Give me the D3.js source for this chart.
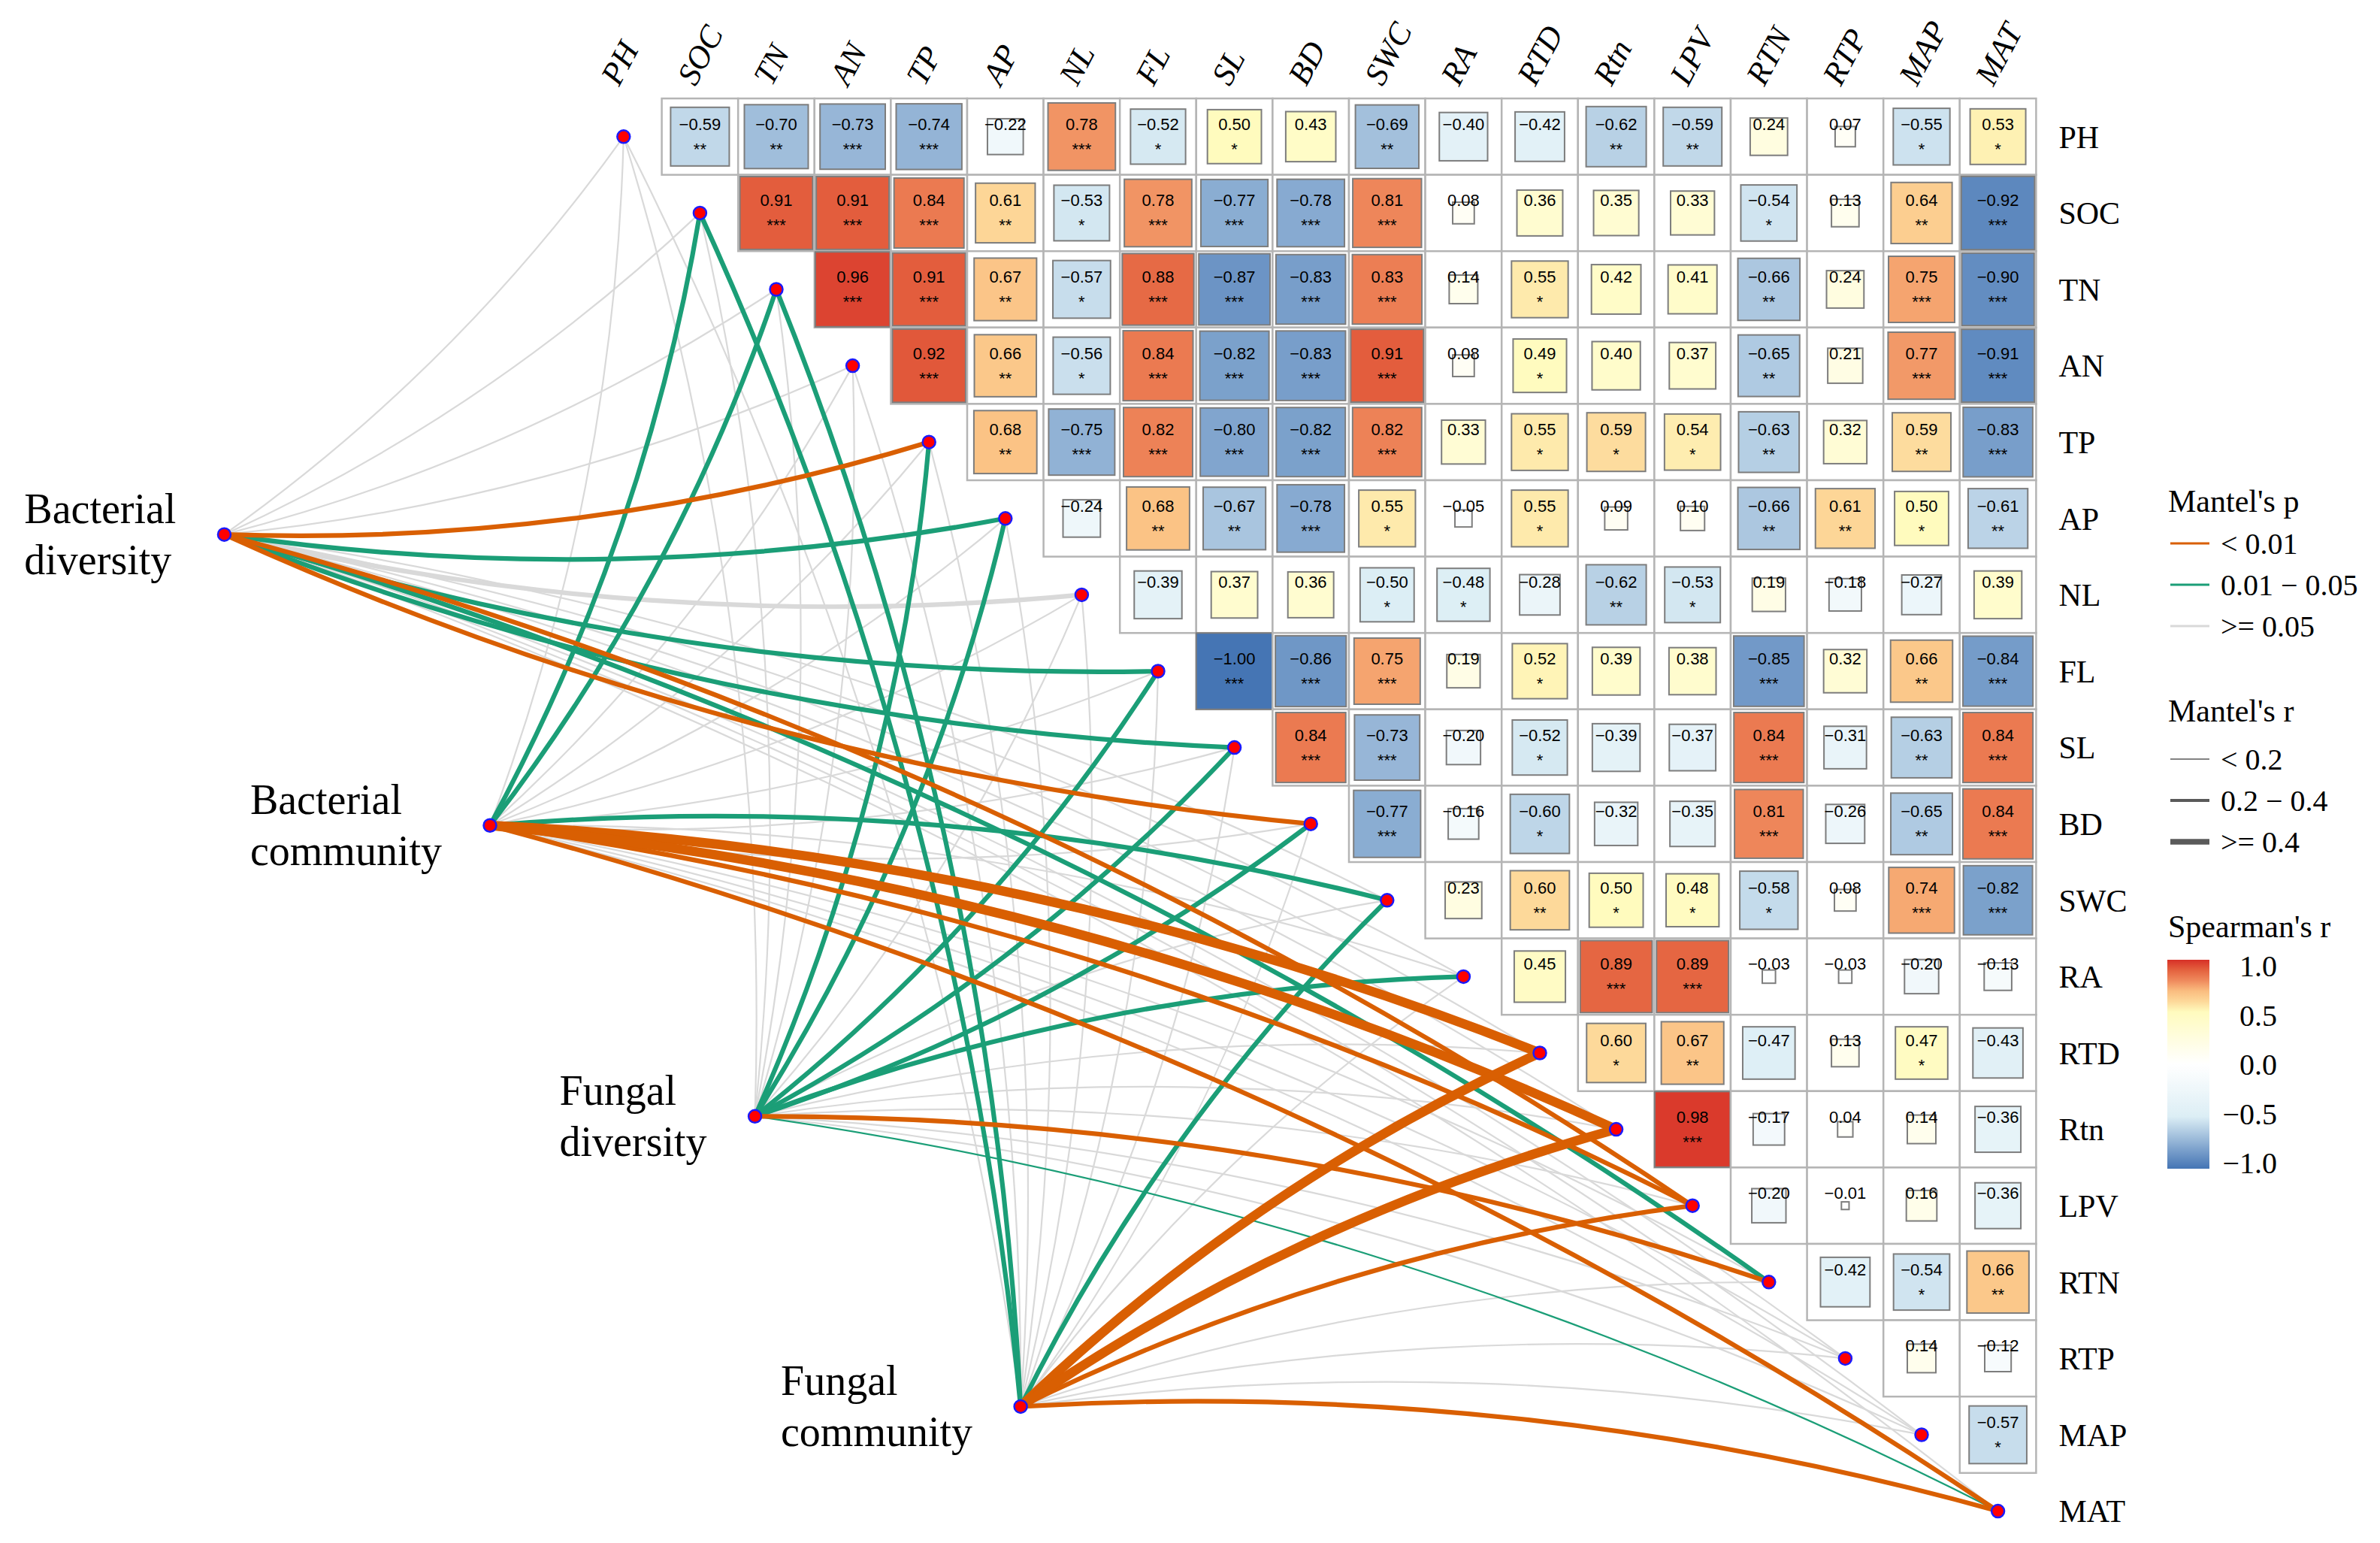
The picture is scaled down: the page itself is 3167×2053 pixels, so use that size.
<!DOCTYPE html>
<html>
<head>
<meta charset="utf-8">
<script src="https://cdn.jsdelivr.net/npm/d3@7/dist/d3.min.js"></script>
<style>
  body { margin: 0; background: #fff; }
  text { fill: #000; }
</style>
</head>
<body>
<svg id="chart"></svg>
<script>
/************************************ Data *******************************/
var vars = ["PH","SOC","TN","AN","TP","AP","NL","FL","SL","BD","SWC","RA","RTD","Rtn","LPV","RTN","RTP","MAP","MAT"];

// Spearman's r, upper triangle, one array per row (columns to the right of the diagonal)
var r_PH  = [-0.59,-0.70,-0.73,-0.74,-0.22,0.78,-0.52,0.50,0.43,-0.69,-0.40,-0.42,-0.62,-0.59,0.24,0.07,-0.55,0.53];
var r_SOC = [0.91,0.91,0.84,0.61,-0.53,0.78,-0.77,-0.78,0.81,0.08,0.36,0.35,0.33,-0.54,0.13,0.64,-0.92];
var r_TN  = [0.96,0.91,0.67,-0.57,0.88,-0.87,-0.83,0.83,0.14,0.55,0.42,0.41,-0.66,0.24,0.75,-0.90];
var r_AN  = [0.92,0.66,-0.56,0.84,-0.82,-0.83,0.91,0.08,0.49,0.40,0.37,-0.65,0.21,0.77,-0.91];
var r_TP  = [0.68,-0.75,0.82,-0.80,-0.82,0.82,0.33,0.55,0.59,0.54,-0.63,0.32,0.59,-0.83];
var r_AP  = [-0.24,0.68,-0.67,-0.78,0.55,-0.05,0.55,0.09,0.10,-0.66,0.61,0.50,-0.61];
var r_NL  = [-0.39,0.37,0.36,-0.50,-0.48,-0.28,-0.62,-0.53,0.19,-0.18,-0.27,0.39];
var r_FL  = [-1.00,-0.86,0.75,0.19,0.52,0.39,0.38,-0.85,0.32,0.66,-0.84];
var r_SL  = [0.84,-0.73,-0.20,-0.52,-0.39,-0.37,0.84,-0.31,-0.63,0.84];
var r_BD  = [-0.77,-0.16,-0.60,-0.32,-0.35,0.81,-0.26,-0.65,0.84];
var r_SWC = [0.23,0.60,0.50,0.48,-0.58,0.08,0.74,-0.82];
var r_RA  = [0.45,0.89,0.89,-0.03,-0.03,-0.20,-0.13];
var r_RTD = [0.60,0.67,-0.47,0.13,0.47,-0.43];
var r_Rtn = [0.98,-0.17,0.04,0.14,-0.36];
var r_LPV = [-0.20,-0.01,0.16,-0.36];
var r_RTN = [-0.42,-0.54,0.66];
var r_RTP = [0.14,-0.12];
var r_MAP = [-0.57];

// number of significance stars, same layout
var s_PH  = [2,2,3,3,0,3,1,1,0,2,0,0,2,2,0,0,1,1];
var s_SOC = [3,3,3,2,1,3,3,3,3,0,0,0,0,1,0,2,3];
var s_TN  = [3,3,2,1,3,3,3,3,0,1,0,0,2,0,3,3];
var s_AN  = [3,2,1,3,3,3,3,0,1,0,0,2,0,3,3];
var s_TP  = [2,3,3,3,3,3,0,1,1,1,2,0,2,3];
var s_AP  = [0,2,2,3,1,0,1,0,0,2,2,1,2];
var s_NL  = [0,0,0,1,1,0,2,1,0,0,0,0];
var s_FL  = [3,3,3,0,1,0,0,3,0,2,3];
var s_SL  = [3,3,0,1,0,0,3,0,2,3];
var s_BD  = [3,0,1,0,0,3,0,2,3];
var s_SWC = [0,2,1,1,1,0,3,3];
var s_RA  = [0,3,3,0,0,0,0];
var s_RTD = [1,2,0,0,1,0];
var s_Rtn = [3,0,0,0,0];
var s_LPV = [0,0,0,0];
var s_RTN = [0,1,2];
var s_RTP = [0,0];
var s_MAP = [1];

var corrRows = [r_PH,r_SOC,r_TN,r_AN,r_TP,r_AP,r_NL,r_FL,r_SL,r_BD,r_SWC,r_RA,r_RTD,r_Rtn,r_LPV,r_RTN,r_RTP,r_MAP];
var starRows = [s_PH,s_SOC,s_TN,s_AN,s_TP,s_AP,s_NL,s_FL,s_SL,s_BD,s_SWC,s_RA,s_RTD,s_Rtn,s_LPV,s_RTN,s_RTP,s_MAP];

// Mantel test classes per env variable (same order as vars)
// p: 0 = < 0.01, 1 = 0.01 - 0.05, 2 = >= 0.05 ; r: 0 = < 0.2, 1 = 0.2 - 0.4, 2 = >= 0.4
var p_BacDiv = [2,2,2,2,0,1,2,1,1,0,2,2,2,2,0,1,2,2,2];
var r_BacDiv = [0,0,0,0,1,1,1,1,1,1,0,0,0,0,1,1,0,0,0];
var p_BacCom = [2,1,1,2,2,2,2,2,2,2,1,2,0,0,0,2,2,2,0];
var r_BacCom = [0,1,1,0,0,0,0,0,0,0,1,0,2,2,1,0,0,0,1];
var p_FunDiv = [2,2,2,2,1,1,2,1,1,1,2,1,2,2,2,0,2,2,1];
var r_FunDiv = [0,0,0,0,1,1,0,1,1,1,0,1,0,0,0,1,0,0,0];
var p_FunCom = [2,1,1,2,2,2,2,2,2,2,1,2,0,0,0,2,2,2,0];
var r_FunCom = [0,1,1,0,0,0,0,0,0,0,1,0,2,2,1,0,0,0,1];

var specNames = [["Bacterial","diversity"],["Bacterial","community"],["Fungal","diversity"],["Fungal","community"]];
// spec node layout, in matrix cell units
var specCol = [-5.23,-1.75,1.72,5.20];
var specRow = [5.21,9.02,12.83,16.63];

var pLabels = ["< 0.01","0.01 \u2212 0.05",">= 0.05"];
var rLabels = ["< 0.2","0.2 \u2212 0.4",">= 0.4"];
var colorTicks = [1.0,0.5,0.0,-0.5,-1.0];

/************************************ Setup *******************************/
var W = 3167, H = 2053, cell = 101.6;
var svg = d3.select("#chart").attr("width", W).attr("height", H);
svg.append("rect").attr("width", W).attr("height", H).attr("fill", "#fff");

var x = d3.scaleLinear().domain([0, vars.length]).range([779, 779 + vars.length * cell]);
var y = d3.scaleLinear().domain([0, vars.length]).range([131, 131 + vars.length * cell]);
var color = d3.scaleLinear()
  .domain([-1, -0.5, 0, 0.5, 0.6, 0.7, 0.8, 0.9, 1])
  .range(["#4575B4", "#DCEEF5", "#FFFFFF", "#FFFBBE", "#FDD99A", "#FABD80", "#EF8A5D", "#E4623F", "#D73027"]);
var pColor = ["#D95F02", "#1B9E77", "#D9D9D9"];
var rWidth = [2.2, 6.2, 12.5];
var fmt = function(v){ return d3.format(".2f")(v).replace("-", "\u2212"); };
var serif = "'Liberation Serif','Times New Roman',serif";
var sans = "'Liberation Sans',Arial,sans-serif";

/************************************ Links *******************************/
var links = [];
var pAll = [p_BacDiv, p_BacCom, p_FunDiv, p_FunCom];
var rAll = [r_BacDiv, r_BacCom, r_FunDiv, r_FunCom];
pAll.forEach(function(ps, s){
  ps.forEach(function(p, v){ links.push({s: s, v: v, p: p, r: rAll[s][v]}); });
});
links.sort(function(a, b){ return (b.p - a.p) || (a.r - b.r); });

var bend = 9.5 * Math.PI / 180;
function linkPath(d) {
  var sx = x(specCol[d.s] + 0.5), sy = y(specRow[d.s] + 0.5);
  var tx = x(d.v + 0.5), ty = y(d.v + 0.5);
  var L = Math.hypot(tx - sx, ty - sy);
  var R = L / (2 * Math.sin(bend));
  var sweep = d.v <= 9 ? 0 : 1;
  return "M" + sx + "," + sy + "A" + R + "," + R + " 0 0," + sweep + " " + tx + "," + ty;
}

svg.append("g").selectAll("path").data(links).enter().append("path")
  .attr("d", linkPath)
  .attr("fill", "none")
  .attr("stroke", function(d){ return pColor[d.p]; })
  .attr("stroke-width", function(d){ return rWidth[d.r]; })
  .attr("stroke-linecap", "butt");

/************************************ Matrix *******************************/
var cells = [];
corrRows.forEach(function(row, i){
  row.forEach(function(r, k){ cells.push({row: i, col: i + 1 + k, r: r, sig: starRows[i][k]}); });
});

var gCell = svg.append("g").selectAll("g").data(cells).enter().append("g");
gCell.append("rect")
  .attr("x", function(d){ return x(d.col); })
  .attr("y", function(d){ return y(d.row); })
  .attr("width", cell).attr("height", cell)
  .attr("fill", "#fff").attr("stroke", "#b5b5b5").attr("stroke-width", 2.5);
gCell.append("rect")
  .attr("x", function(d){ return x(d.col + 0.5) - Math.sqrt(Math.abs(d.r)) * cell / 2; })
  .attr("y", function(d){ return y(d.row + 0.5) - Math.sqrt(Math.abs(d.r)) * cell / 2; })
  .attr("width", function(d){ return Math.sqrt(Math.abs(d.r)) * cell; })
  .attr("height", function(d){ return Math.sqrt(Math.abs(d.r)) * cell; })
  .attr("fill", function(d){ return color(d.r); })
  .attr("stroke", "#7d7d7d").attr("stroke-width", 2);
gCell.append("text")
  .attr("x", function(d){ return x(d.col + 0.5); })
  .attr("y", function(d){ return y(d.row + 0.5) - 9; })
  .attr("text-anchor", "middle")
  .style("font-family", sans).style("font-size", "22px")
  .text(function(d){ return fmt(d.r); });
gCell.append("text")
  .attr("x", function(d){ return x(d.col + 0.5); })
  .attr("y", function(d){ return y(d.row + 0.5) + 24; })
  .attr("text-anchor", "middle")
  .style("font-family", sans).style("font-size", "22px")
  .text(function(d){ return "***".slice(0, d.sig); });

// row labels (right) and column labels (top)
svg.append("g").selectAll("text").data(vars).enter().append("text")
  .attr("x", x(vars.length) + 30)
  .attr("y", function(d, i){ return y(i + 0.5); })
  .attr("dy", "0.35em")
  .style("font-family", serif).style("font-size", "42px")
  .text(function(d){ return d; });
svg.append("g").selectAll("text").data(vars).enter().append("text")
  .attr("transform", function(d, i){ return "translate(" + (x(i + 0.5) - 6) + ",116) rotate(-62)"; })
  .style("font-family", serif).style("font-size", "43px").style("font-style", "italic")
  .text(function(d){ return d; });

/************************************ Nodes *******************************/
var nodeG = svg.append("g");
nodeG.selectAll("circle.env").data(vars).enter().append("circle")
  .attr("cx", function(d, i){ return x(i + 0.5); })
  .attr("cy", function(d, i){ return y(i + 0.5); })
  .attr("r", 8.5).attr("fill", "#ff0000").attr("stroke", "#1a1aff").attr("stroke-width", 2.5);
nodeG.selectAll("circle.spec").data(specNames).enter().append("circle")
  .attr("cx", function(d, i){ return x(specCol[i] + 0.5); })
  .attr("cy", function(d, i){ return y(specRow[i] + 0.5); })
  .attr("r", 8.5).attr("fill", "#ff0000").attr("stroke", "#1a1aff").attr("stroke-width", 2.5);

specNames.forEach(function(lines, i){
  var nx = x(specCol[i] + 0.5), ny = y(specRow[i] + 0.5);
  var t = svg.append("text").style("font-family", serif).style("font-size", "56px");
  var a = t.append("tspan").attr("y", ny - 15).text(lines[0]);
  var b = t.append("tspan").attr("y", ny + 53).text(lines[1]);
  var w = Math.max(a.node().getComputedTextLength(), b.node().getComputedTextLength());
  a.attr("x", nx - 64 - w); b.attr("x", nx - 64 - w);
});

/************************************ Legend *******************************/
var lg = svg.append("g").style("font-family", serif);
lg.append("text").attr("x", 2885).attr("y", 681).style("font-size", "42px").text("Mantel's p");
pLabels.forEach(function(l, i){
  var cy = 723 + i * 55;
  lg.append("line").attr("x1", 2888).attr("x2", 2940).attr("y1", cy).attr("y2", cy)
    .attr("stroke", pColor[i]).attr("stroke-width", 3);
  lg.append("text").attr("x", 2955).attr("y", cy).attr("dy", "0.35em").style("font-size", "40px").text(l);
});
lg.append("text").attr("x", 2885).attr("y", 960).style("font-size", "42px").text("Mantel's r");
var keyW = [1.5, 4, 7.5];
rLabels.forEach(function(l, i){
  var cy = 1010 + i * 55;
  lg.append("line").attr("x1", 2888).attr("x2", 2940).attr("y1", cy).attr("y2", cy)
    .attr("stroke", "#5a5a5a").attr("stroke-width", keyW[i]);
  lg.append("text").attr("x", 2955).attr("y", cy).attr("dy", "0.35em").style("font-size", "40px").text(l);
});
lg.append("text").attr("x", 2885).attr("y", 1247).style("font-size", "42px").text("Spearman's r");

var cb = d3.scaleLinear().domain([1, -1]).range([1285, 1547]);
var grad = svg.append("defs").append("linearGradient").attr("id", "cbar")
  .attr("x1", 0).attr("y1", 0).attr("x2", 0).attr("y2", 1);
d3.range(0, 41).forEach(function(k){
  var v = 1 - k / 20;
  grad.append("stop").attr("offset", (k / 40)).attr("stop-color", color(v));
});
lg.append("rect").attr("x", 2884).attr("y", cb(1) - 8).attr("width", 56).attr("height", cb(-1) - cb(1) + 16)
  .attr("fill", "url(#cbar)");
lg.selectAll("text.tick").data(colorTicks).enter().append("text")
  .attr("x", 3030).attr("y", function(d){ return cb(d); }).attr("dy", "0.35em")
  .attr("text-anchor", "end").style("font-size", "40px")
  .text(function(d){ return d3.format(".1f")(d).replace("-", "\u2212"); });
</script>
</body>
</html>
